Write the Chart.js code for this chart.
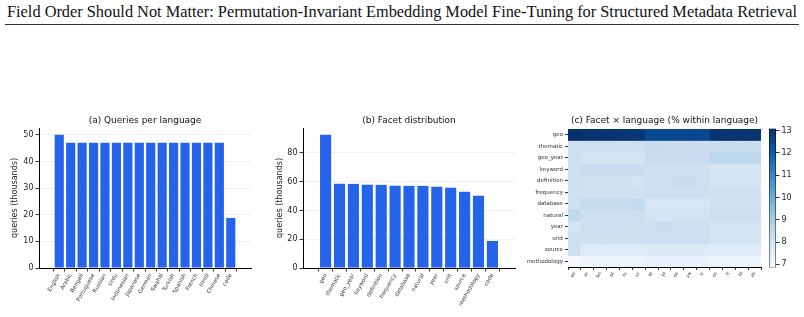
<!DOCTYPE html>
<html>
<head>
<meta charset="utf-8">
<script src="https://cdn.jsdelivr.net/npm/chart.js@4.4.1/dist/chart.umd.min.js"></script>
<style>
  body { margin: 0; background: #fff; }
  #page { position: relative; width: 804px; height: 317px; overflow: hidden; }
  canvas { position: absolute; }
  #head { position: absolute; left: 7px; top: 2px; font-family: "Liberation Serif", serif; font-size: 17px;
          white-space: nowrap; transform-origin: 0 0; color: #111; }
  #rule { position: absolute; left: 5px; top: 24px; width: 794px; height: 1px; background: #333; }
</style>
</head>
<body>
<div id="page">
  <div id="head">Field Order Should Not Matter: Permutation-Invariant Embedding Model Fine-Tuning for Structured Metadata Retrieval</div>
  <div id="rule"></div>
  <canvas id="chartLang" width="262" height="207" style="left:0;top:110px"></canvas>
  <canvas id="chartFacet" width="268" height="207" style="left:262px;top:110px"></canvas>
  <canvas id="chartHeat" width="250" height="207" style="left:518px;top:110px"></canvas>
  <canvas id="chartBar" width="44" height="207" style="left:760px;top:110px"></canvas>
</div>
<script>
// (a) queries per language, thousands
const languages = ["English", "Arabic", "Bengali", "Portuguese", "Russian", "Urdu", "Indonesian", "Japanese",
  "German", "Swahili", "Turkish", "Spanish", "French", "Hindi", "Chinese", "code"];
const langQueries = [50.1, 47.1, 47.1, 47.1, 47.1, 47.1, 47.1, 47.1, 47.1, 47.1, 47.1, 47.1, 47.1, 47.1, 47.1, 18.8];

// (b) facet distribution, thousands
const facetNames = ["geo", "thematic", "geo_year", "keyword", "definition", "frequency", "database", "natural",
  "year", "unit", "source", "methodology", "code"];
const facetQueries = [92.7, 58.6, 58.5, 57.9, 57.8, 57.2, 57.1, 57.1, 56.5, 55.8, 53.0, 50.2, 18.8];

// (c) facet x language, % within language
const langCodes = ["en", "ar", "bn", "pt", "ru", "ur", "id", "ja", "de", "sw", "tr", "es", "fr", "hi", "zh"];
const heatFacets = ["geo", "thematic", "geo_year", "keyword", "definition", "frequency", "database", "natural",
  "year", "unit", "source", "methodology"];
const geoShare         = [13.09, 13.0, 13.0, 13.0, 12.95, 12.9, 12.5, 12.5, 12.5, 12.55, 12.5, 13.0, 13.0, 13.0, 13.0];
const thematicShare    = [8.2, 8.2, 8.2, 8.2, 8.2, 8.2, 8.4, 8.3, 8.3, 8.3, 8.3, 8.3, 8.3, 8.3, 8.3];
const geoYearShare     = [8.2, 8.0, 8.0, 8.0, 8.0, 8.0, 8.3, 8.3, 8.3, 8.3, 8.3, 8.6, 8.6, 8.6, 8.6];
const keywordShare     = [8.2, 8.3, 8.3, 8.3, 8.3, 8.3, 8.2, 8.2, 8.2, 8.2, 8.2, 8.0, 8.0, 8.0, 8.0];
const definitionShare  = [8.2, 8.1, 8.1, 8.1, 8.1, 8.0, 8.2, 8.2, 8.3, 8.4, 8.2, 8.0, 8.0, 8.0, 8.0];
const frequencyShare   = [8.1, 8.1, 8.1, 8.1, 8.1, 8.1, 8.2, 8.2, 8.2, 8.2, 8.2, 8.1, 8.1, 8.1, 8.1];
const databaseShare    = [8.2, 8.4, 8.4, 8.4, 8.4, 8.5, 7.9, 7.9, 7.9, 7.9, 7.9, 8.1, 8.1, 8.1, 8.1];
const naturalShare     = [8.6, 8.2, 8.2, 8.2, 8.2, 8.2, 8.0, 8.0, 8.0, 8.0, 8.0, 8.2, 8.2, 8.2, 8.2];
const yearShare        = [8.0, 8.2, 8.2, 8.2, 8.2, 8.2, 8.2, 8.3, 8.2, 8.2, 8.2, 8.0, 8.0, 8.0, 8.0];
const unitShare        = [8.2, 8.1, 8.1, 8.1, 8.1, 8.1, 8.2, 8.2, 8.2, 8.2, 8.2, 8.0, 8.0, 8.0, 8.0];
const sourceShare      = [8.2, 7.6, 7.6, 7.6, 7.6, 7.6, 7.7, 7.7, 7.7, 7.7, 7.7, 7.6, 7.6, 7.6, 7.6];
const methodologyShare = [6.86, 7.1, 7.2, 7.2, 7.2, 7.2, 7.3, 7.3, 7.3, 7.3, 7.3, 7.2, 7.2, 7.2, 7.2];
const colorbarTicks = [7, 8, 9, 10, 11, 12, 13];

const shareRows = [geoShare, thematicShare, geoYearShare, keywordShare, definitionShare, frequencyShare,
  databaseShare, naturalShare, yearShare, unitShare, sourceShare, methodologyShare];

// fit the header line to the page width
const head = document.getElementById("head");
head.style.transform = "scaleX(" + (790 / head.getBoundingClientRect().width) + ")";

Chart.defaults.font.family = "'DejaVu Sans', sans-serif";
Chart.defaults.color = "#222";
Chart.defaults.animation = false;
Chart.defaults.responsive = false;
Chart.defaults.devicePixelRatio = 1;
Chart.defaults.plugins.legend.display = false;
Chart.defaults.plugins.tooltip.enabled = false;

const BAR_BLUE = "#2563eb";

// matplotlib "Blues"
const bluesStops = [[247, 251, 255], [222, 235, 247], [198, 219, 239], [158, 202, 225], [107, 174, 214],
  [66, 146, 198], [33, 113, 181], [8, 81, 156], [8, 48, 107]];
function blues(t) {
  t = Math.min(1, Math.max(0, t)) * (bluesStops.length - 1);
  const i = Math.min(bluesStops.length - 2, Math.floor(t));
  const f = t - i;
  const c = bluesStops[i].map((v, k) => Math.round(v + (bluesStops[i + 1][k] - v) * f));
  return `rgb(${c[0]},${c[1]},${c[2]})`;
}

function barPanel(id, names, values, title, yWidth, yTitlePad, step, padRight) {
  const n = names.length;
  const lo = -0.4 - 0.05 * (n - 0.2);
  const hi = n - 1 + 0.4 + 0.05 * (n - 0.2);
  new Chart(document.getElementById(id), {
    type: "bar",
    data: {
      datasets: [{
        data: values.map((v, i) => ({ x: i, y: v })),
        backgroundColor: BAR_BLUE,
        barPercentage: 0.8,
        categoryPercentage: 1
      }]
    },
    options: {
      layout: { padding: { left: 0, right: padRight, top: 0, bottom: 0 } },
      plugins: {
        title: {
          display: true, text: title, fullSize: false,
          font: { size: 9, weight: "normal" }, color: "#111",
          padding: { top: 5, bottom: 2.2 }
        }
      },
      scales: {
        x: {
          type: "linear", min: lo, max: hi,
          afterBuildTicks: (s) => { s.ticks = names.map((_, i) => ({ value: i })); },
          afterFit: (s) => { s.height = 49; },
          ticks: {
            autoSkip: false, maxRotation: 60, minRotation: 60, padding: 1,
            font: { size: 5.5 }, color: "#333",
            callback: (v) => names[Math.round(v)]
          },
          grid: { drawOnChartArea: false, tickLength: 3.5, tickColor: "#000", tickWidth: 0.8 },
          border: { color: "#000", width: 1 }
        },
        y: {
          min: 0, max: Math.max(...values) * 1.05,
          afterFit: (s) => { s.width = yWidth; },
          ticks: { stepSize: step, includeBounds: false, font: { size: 8 }, padding: 2, color: "#222" },
          grid: { color: "#ebebeb", lineWidth: 0.8, tickLength: 3.5, tickColor: "#000", tickWidth: 0.8 },
          border: { color: "#000", width: 1 },
          title: {
            display: true, text: "queries (thousands)", font: { size: 8 }, color: "#222",
            padding: { top: yTitlePad, bottom: 0 }
          }
        }
      }
    }
  });
}

barPanel("chartLang", languages, langQueries, "(a) Queries per language", 39, 10.2, 10, 11);
barPanel("chartFacet", facetNames, facetQueries, "(b) Facet distribution", 41, 13.2, 20, 15);

// heatmap: one stacked unit-height bar segment per cell, coloured by its share
const allShares = shareRows.flat();
const vmin = Math.min(...allShares);
const vmax = Math.max(...allShares);
const shade = (v) => blues((v - vmin) / (vmax - vmin));

new Chart(document.getElementById("chartHeat"), {
  type: "bar",
  data: {
    labels: langCodes,
    datasets: heatFacets.map((f, r) => ({
      label: f,
      data: langCodes.map(() => 1),
      backgroundColor: shareRows[r].map(shade),
      borderWidth: 0,
      barPercentage: 1,
      categoryPercentage: 1,
      stack: "cells"
    }))
  },
  options: {
    layout: { padding: { left: 0, right: 7, top: 0, bottom: 0 } },
    plugins: {
      title: {
        display: true, text: "(c) Facet \u00d7 language (% within language)", fullSize: false,
        font: { size: 9, weight: "normal" }, color: "#111",
        padding: { top: 5, bottom: 3.2 }
      }
    },
    scales: {
      x: {
        stacked: true, offset: true,
        afterFit: (s) => { s.height = 50; },
        ticks: { autoSkip: false, maxRotation: 60, minRotation: 60, padding: 1, font: { size: 4.5 }, color: "#333" },
        grid: { drawOnChartArea: false, tickLength: 3, tickColor: "#000", tickWidth: 0.8 },
        border: { color: "#000", width: 1 }
      },
      y: { stacked: true, min: 0, max: heatFacets.length, reverse: true, display: false },
      rows: {
        type: "category", position: "left", labels: heatFacets, offset: true,
        afterFit: (s) => { s.width = 50; },
        ticks: { autoSkip: false, font: { size: 5.5 }, padding: 2, color: "#333" },
        grid: { drawOnChartArea: false, tickLength: 3, tickColor: "#000", tickWidth: 0.8 },
        border: { color: "#000", width: 1 }
      }
    }
  }
});

// colorbar: one floating bar spanning the value range, filled with the colormap
new Chart(document.getElementById("chartBar"), {
  type: "bar",
  data: {
    labels: ["%"],
    datasets: [{
      data: [[vmin, vmax]],
      barPercentage: 1,
      categoryPercentage: 1,
      borderWidth: 0.8,
      borderColor: "#000",
      borderSkipped: false,
      backgroundColor: (c) => {
        const chart = c.chart;
        if (!chart.chartArea) return null;
        const ys = chart.scales.y;
        const g = chart.ctx.createLinearGradient(0, ys.getPixelForValue(vmin), 0, ys.getPixelForValue(vmax));
        for (let k = 0; k <= 20; k++) g.addColorStop(k / 20, blues(k / 20));
        return g;
      }
    }]
  },
  options: {
    layout: { padding: { left: 9, right: 0, top: 18.5, bottom: 49.5 } },
    scales: {
      x: { display: false },
      y: {
        position: "right", min: vmin, max: vmax,
        afterBuildTicks: (s) => { s.ticks = colorbarTicks.map((v) => ({ value: v })); },
        afterFit: (s) => { s.width = 28; },
        ticks: { font: { size: 8 }, padding: 2, color: "#222" },
        grid: { drawOnChartArea: false, tickLength: 3.5, tickColor: "#000", tickWidth: 0.8 },
        border: { display: false }
      }
    }
  }
});
</script>
</body>
</html>
